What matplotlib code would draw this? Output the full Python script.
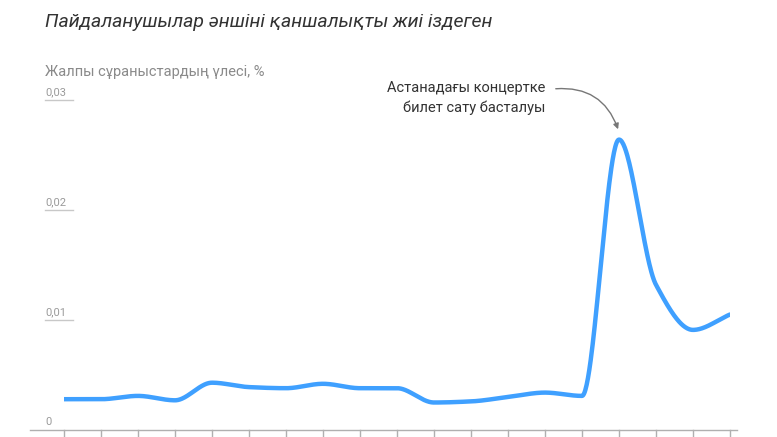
import numpy as np
import matplotlib
matplotlib.use("Agg")
import matplotlib.pyplot as plt
plt.rcParams['font.family'] = ['Roboto', 'DejaVu Sans']

values = [0.0028, 0.0028, 0.0031, 0.0027, 0.0043, 0.0039, 0.0038, 0.0042, 0.0038, 0.0038,
          0.0025, 0.0026, 0.0030, 0.0034, 0.0031, 0.0264, 0.0132, 0.0091, 0.0105]
yticks = [0, 0.01, 0.02, 0.03]
ytick_labels = ["0", "0,01", "0,02", "0,03"]
title = "Пайдаланушылар әншіні қаншалықты жиі іздеген"
subtitle = "Жалпы сұраныстардың үлесі, %"
annot = "Астанадағы концертке\nбилет сату басталуы"

def pchip(x, y, xs):
    x = np.asarray(x, float); y = np.asarray(y, float)
    h = np.diff(x); d = np.diff(y) / h
    m = np.zeros_like(y)
    for k in range(1, len(y) - 1):
        if d[k-1] * d[k] > 0:
            w1 = 2*h[k] + h[k-1]; w2 = h[k] + 2*h[k-1]
            m[k] = (w1 + w2) / (w1/d[k-1] + w2/d[k])
    m[0] = d[0]; m[-1] = d[-1]
    idx = np.clip(np.searchsorted(x, xs) - 1, 0, len(h) - 1)
    t = (xs - x[idx]) / h[idx]
    h00 = 2*t**3 - 3*t**2 + 1; h10 = t**3 - 2*t**2 + t
    h01 = -2*t**3 + 3*t**2; h11 = t**3 - t**2
    return h00*y[idx] + h10*h[idx]*m[idx] + h01*y[idx+1] + h11*h[idx]*m[idx+1]

W, H = 777, 437
fig = plt.figure(figsize=(W/100, H/100), dpi=100)
ax = fig.add_axes([64/W, 7/H, (730-64)/W, 330/H])
n = len(values)
xi = np.arange(n)
xs = np.linspace(0, n-1, 1000)
ax.plot(xs, pchip(xi, values, xs), color="#3fa0ff", lw=3.2, solid_capstyle="round")
ax.set_xlim(0, n-1); ax.set_ylim(0, 0.03)
ax.axis("off")

gray = "#9a9a9a"
ax.plot([-0.92, 18.19], [0, 0], color="#b0b0b0", lw=1, clip_on=False)
for i in xi:
    ax.plot([i, i], [0, -0.0005], color="#b0b0b0", lw=1, clip_on=False)
for v, lab in zip(yticks, ytick_labels):
    yp = 430 - v/0.01*110
    fig.text(45/W, 1 - (yp - 3)/H, lab, fontsize=8, color=gray, va="bottom", ha="left")
    if v > 0:
        fig.add_artist(plt.Line2D([45/W, 73/W], [1 - yp/H]*2, color="#c8c8c8", lw=1))

fig.text(45/W, 1 - 22/H, title, fontsize=14, style="italic", color="#333333", va="center")
fig.text(45/W, 1 - 72/H, subtitle, fontsize=10.5, color="#8a8a8a", va="center")
fig.text(545/W, 1 - 98/H, annot, fontsize=10.5, color="#333333", ha="right", va="center",
         linespacing=1.5)
ax.annotate("", xy=(15, values[15] + 0.0007), xycoords="data",
            xytext=(553/W, 1 - 89/H), textcoords="figure fraction",
            arrowprops=dict(arrowstyle="-|>", color="#777777", lw=1,
                            connectionstyle="arc3,rad=-0.4", mutation_scale=8))
fig.savefig("out.png", dpi=100)
